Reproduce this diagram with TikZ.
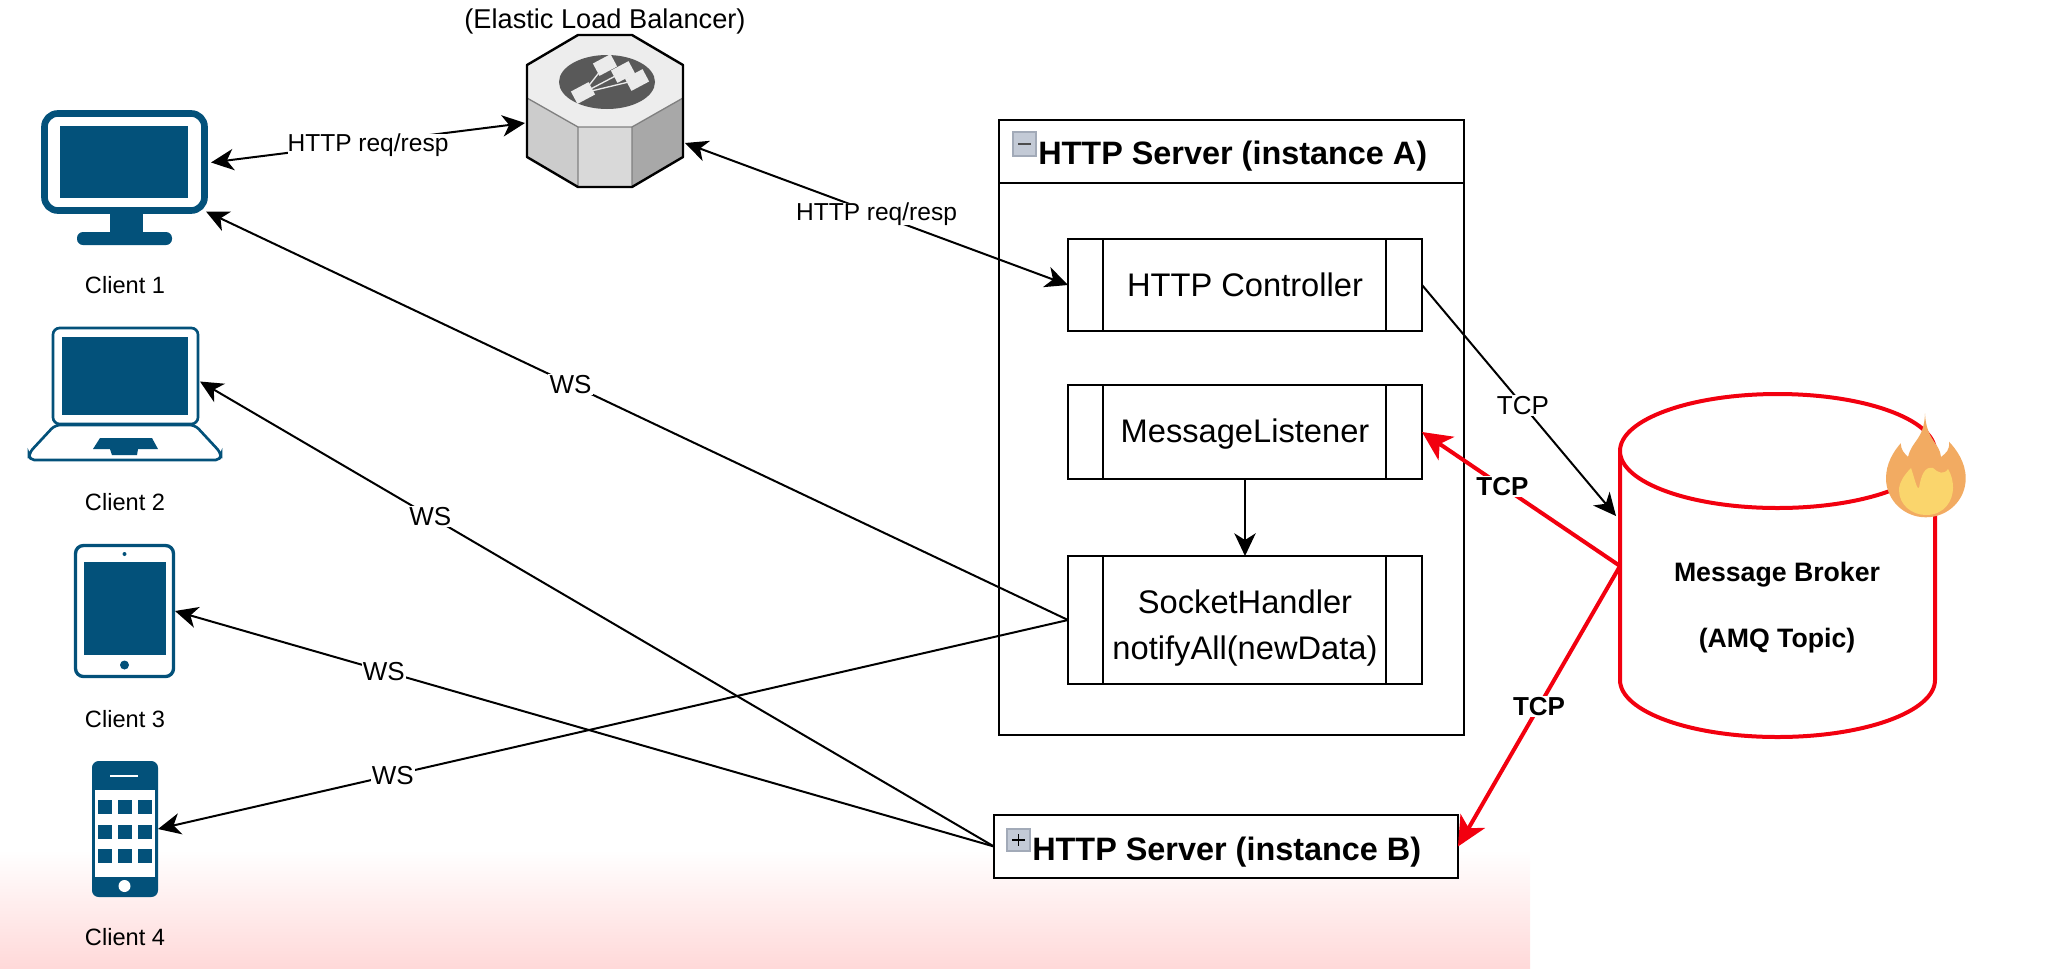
\documentclass[tikz,border=0pt]{standalone}
\usepackage{fontspec}
\setmainfont{Liberation Sans}
\usetikzlibrary{calc,arrows.meta}
\definecolor{iconblue}{HTML}{03517A}
\definecolor{brokerred}{HTML}{F2000F}
\definecolor{flameout}{HTML}{F2AB62}
\definecolor{flamein}{HTML}{FAD56C}
\definecolor{togglefill}{HTML}{C3CAD6}
\definecolor{toggleline}{HTML}{A2AAB8}
\tikzset{>={Stealth[length=17pt,width=16pt,inset=5pt]}}
\tikzset{
  wire/.style={line width=1.5pt},
  hot/.style={line width=3pt,draw=brokerred,>={Stealth[length=22pt,width=21pt,inset=6pt]}},
  box/.style={draw,line width=1.5pt,fill=white,inner sep=0pt,outer sep=0pt},
  iconbox/.style={inner sep=0pt,outer sep=0pt},
  lab/.style={inner sep=0pt,fill=white,font=\fontsize{18.4}{22}\selectfont},
  ws/.style={lab,inner sep=1pt,font=\fontsize{19.5}{23}\selectfont},
  tcp/.style={lab,inner sep=1pt,font=\fontsize{19.5}{23}\selectfont\bfseries},
  caption/.style={inner sep=0pt,font=\fontsize{17.7}{21}\selectfont},
  title/.style={inner sep=0pt,anchor=west,font=\fontsize{24.3}{29}\selectfont\bfseries},
  comp/.style={box,align=center,minimum width=265.5pt,font=\fontsize{24.5}{35}\selectfont},
  toggle/.style={draw=toggleline,fill=togglefill,line width=1pt},
  tile/.style={fill=iconblue}
}
\begin{document}
\begin{tikzpicture}[x=0.75pt,y=-0.75pt]
      \useasboundingbox (0,0) rectangle (2048,968);
      \shade[top color=white,bottom color=red!15!white] (0,850) rectangle (1530,968);

      \node[box,minimum width=348.75pt,minimum height=461.25pt] (serverA) at (1231.5,427.5) {};
      \draw[wire] (999,183) -- (1464,183);
      \draw[toggle] (1013,132) rectangle (1036,156);
      \draw[line width=1.2pt,black!70] (1018,144) -- (1031,144);
      \node[title] (titleA) at (1038,156) {HTTP Server (instance A)};

      \node[comp,minimum height=69pt] (ctrl) at (1245,285) {HTTP Controller};
      \node[comp,minimum height=70.5pt] (listener) at (1245,432) {\rule{0pt}{21pt}MessageListener};
      \node[comp,minimum height=96pt] (socket) at (1245,620) {\rule{0pt}{30pt}SocketHandler\\notifyAll(newData)};
      \foreach \n in {ctrl,listener,socket} {
        \draw[wire] ($(\n.north west)+(35,0)$) -- ($(\n.south west)+(35,0)$);
        \draw[wire] ($(\n.north east)+(-36,0)$) -- ($(\n.south east)+(-36,0)$);
      }

      \node[box,minimum width=348pt,minimum height=47pt] (serverB) at (1226,846.5) {};
      \draw[toggle] (1007,829) rectangle (1030,851);
      \draw[line width=1.2pt] (1012,840) -- (1025,840) (1018.5,834) -- (1018.5,846);
      \node[title] (titleB) at (1032,852) {HTTP Server (instance B)};

      \node[iconbox,minimum width=236.25pt,minimum height=256.5pt] (broker) at (1777.5,566) {};
      \filldraw[brokerred,fill=white,line width=3pt] (1620,451) -- (1620,680)
        .. controls (1620,711.5) and (1690.5,737) .. (1777.5,737)
        .. controls (1864.5,737) and (1935,711.5) .. (1935,680) -- (1935,451);
      \filldraw[brokerred,fill=white,line width=3pt] (1777.5,451) ellipse (157.5 and 57);
      \node[inner sep=0pt,align=center,font=\fontsize{20}{49.5}\selectfont\bfseries] (brokername) at (1777,608)
            {Message Broker\\(AMQ Topic)};

      \fill[flameout] (1925.7,517.3)
        .. controls (1948,517.3) and (1965.7,500) .. (1965.7,478.3)
        .. controls (1965.7,462) and (1956,449) .. (1949,441.7)
        .. controls (1950,450) and (1946,453) .. (1941,457)
        .. controls (1940,443) and (1926,440) .. (1925,413.3)
        .. controls (1924,440) and (1912,440) .. (1908,457)
        .. controls (1904,453) and (1901,450) .. (1900.7,443.3)
        .. controls (1893,452) and (1886,464) .. (1886,478.3)
        .. controls (1886,500) and (1904,517.3) .. (1925.7,517.3) -- cycle;
      \fill[flamein] (1926,515)
        .. controls (1945,515) and (1953,500) .. (1953,488)
        .. controls (1953,480) and (1951,474) .. (1948,469)
        .. controls (1944,475) and (1938,473) .. (1933,468)
        .. controls (1925,466) and (1921,475) .. (1919,488)
        .. controls (1917,490) and (1915,480) .. (1911,468)
        .. controls (1904,475) and (1899,483) .. (1899,490)
        .. controls (1899,505) and (1912,515) .. (1926,515) -- cycle;

      \node[iconbox,minimum width=117pt,minimum height=114pt] (elb) at (605,111) {};
      \fill[black!20] (527,98) -- (578,127) -- (578,187) -- (527,157) -- cycle;
      \fill[black!15] (578,127) -- (632,127) -- (632,187) -- (578,187) -- cycle;
      \fill[black!34] (632,127) -- (683,98) -- (683,157) -- (632,187) -- cycle;
      \fill[black!7] (578,35) -- (632,35) -- (683,65) -- (683,98) -- (632,127) -- (578,127) -- (527,98) -- (527,65) -- cycle;
      \draw[black!50,line width=1pt] (527,98) -- (578,127) -- (632,127) -- (683,98) (578,127) -- (578,187) (632,127) -- (632,187);
      \draw[line width=1.8pt,line join=round] (578,35) -- (632,35) -- (683,65) -- (683,157) -- (632,187) -- (578,187) -- (527,157) -- (527,65) -- cycle;
      \fill[black!65] (607,82) ellipse (48 and 27);
      \draw[black!8,line width=1pt] (583,93) -- (605,65) (583,93) -- (623,72) (583,93) -- (637,80);
      \foreach \x/\y in {583/93,605/65,623/72,637/80}
        \fill[black!8,rotate around={28:(\x,\y)}] (\x-10,\y-7) rectangle (\x+10,\y+7);
      \node[lab,fill=none,font=\fontsize{20.4}{24}\selectfont] (elbname) at (605,21) {(Elastic Load Balancer)};

      \node[iconbox,minimum width=125.25pt,minimum height=101.25pt] (client1) at (124.5,177.5) {};
      \draw[iconblue,line width=5pt,rounded corners=10pt] (44.5,113.5) rectangle (204.5,210.5);
      \fill[tile] (60,126) rectangle (188,198);
      \fill[tile] (110,212) rectangle (143,235);
      \fill[tile,rounded corners=4.5pt] (77,232) rectangle (172,245);
      \node[caption] (name1) at (125,285) {Client 1};

      \node[iconbox,minimum width=110.25pt,minimum height=72.75pt] (client2) at (125.5,375.5) {};
      \draw[iconblue,line width=2pt,rounded corners=5pt] (53,328) rectangle (198,424);
      \fill[tile] (62,337) rectangle (188,415);
      \draw[iconblue,line width=2pt,rounded corners=4pt] (55,425) -- (29,453) -- (29,460) -- (221,460) -- (221,453) -- (195,425) -- cycle;
      \fill[tile] (100,438) -- (152,438) -- (158,449) -- (138,449) -- (137,455) -- (112,455) -- (110,449) -- (93,449) -- cycle;
      \node[caption] (name2) at (125,502) {Client 2};

      \node[iconbox,minimum width=75.75pt,minimum height=100.5pt] (client3) at (124.5,611) {};
      \draw[iconblue,line width=2.5pt,rounded corners=6pt] (75.5,545.5) rectangle (173.5,676.5);
      \fill[tile] (84,562) rectangle (166,655);
      \fill[tile] (124.5,554) circle (2);
      \fill[tile] (124.5,665) circle (4.5);
      \node[caption] (name3) at (125,719) {Client 3};

      \node[iconbox,minimum width=49.5pt,minimum height=102pt] (client4) at (125,829) {};
      \fill[tile,rounded corners=5pt] (92,761) rectangle (158,897);
      \fill[white] (95,790) rectangle (155,877);
      \draw[white,line width=1.5pt] (110,776) -- (138,776);
      \foreach \x in {105,125,145}
        \foreach \y in {807,832,856}
          \fill[tile] (\x-7,\y-7) rectangle (\x+7,\y+7);
      \fill[white] (124.5,886) circle (6);
      \node[caption] (name4) at (125,937) {Client 4};

      \draw[wire,<->] ($(client1.east)+(3,-15)$) -- node[lab,pos=.5,yshift=-2pt] (lab1) {HTTP req/resp} ($(elb.west)+(-2,12)$);
      \draw[wire,<->] ($(elb.east)+(2,32)$) -- node[lab,pos=.5] (lab2) {HTTP req/resp} (ctrl.west);
      \draw[wire,->] (ctrl.east) -- node[ws,pos=.52] (lab3) {TCP} ($(broker.west)+(-4,-50)$);
      \draw[wire,->] (listener.south) -- (socket.north);
      \draw[hot,->] (broker.west) -- node[tcp,pos=.594] (lab4) {TCP} (listener.east);
      \draw[hot,->] (broker.west) -- node[tcp,pos=.5] (lab5) {TCP} (serverB.east);
      \draw[wire,->] (socket.west) -- node[ws,pos=.577] (lab6) {WS} ($(client1.east)+(-2,34)$);
      \draw[wire,->] (socket.west) -- node[ws,pos=.742] (lab7) {WS} (client4.east);
      \draw[wire,->] (serverB.west) -- node[ws,pos=.71] (lab8) {WS} ($(client2.east)+(1,6)$);
      \draw[wire,->] (serverB.west) -- node[ws,pos=.745] (lab9) {WS} (client3.east);
    \end{tikzpicture}
\end{document}
